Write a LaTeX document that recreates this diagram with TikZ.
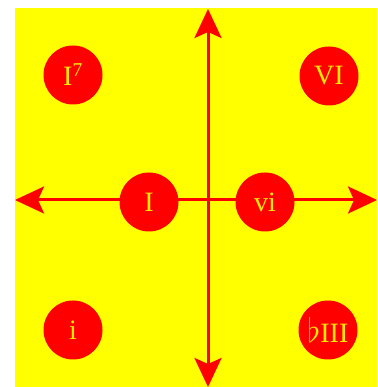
\documentclass[tikz,border=0pt]{standalone}
\usepackage{fontspec}
\setmainfont{Liberation Serif}
\usetikzlibrary{arrows.meta}
\definecolor{bgyellow}{RGB}{255,255,0}
\definecolor{chordred}{RGB}{255,0,0}
\definecolor{txtyellow}{RGB}{255,235,0}
\tikzset{
  chord/.style={circle, fill=chordred, minimum size=59pt, inner sep=0pt,
    text=txtyellow, font=\fontsize{28}{28}\selectfont},
  axisline/.style={draw=chordred, line width=3pt,
    {Stealth[length=29pt, width=27pt, inset=6pt]}-{Stealth[length=29pt, width=27pt, inset=6pt]}}
}
\begin{document}
\begin{tikzpicture}[x=1pt,y=1pt]
\useasboundingbox (0,0) rectangle (377,387);
\fill[bgyellow] (15,0) rectangle (377,379);
\coordinate (top) at (208,378);
\coordinate (bottom) at (208,0);
\coordinate (left) at (15,187);
\coordinate (right) at (377,187);
\draw[axisline] (top) -- (bottom);
\draw[axisline] (left) -- (right);
\node[chord] (I7) at (73,312) {I\textsuperscript{7}};
\node[chord] (VI) at (329,311) {VI};
\node[chord] (I) at (149,185) {I};
\node[chord] (vi) at (265,185) {vi};
\node[chord] (i) at (73,57) {i};
\node[chord] (bIII) at (328,57) {\scalebox{1.35}{$\flat$}III};
\end{tikzpicture}
\end{document}
